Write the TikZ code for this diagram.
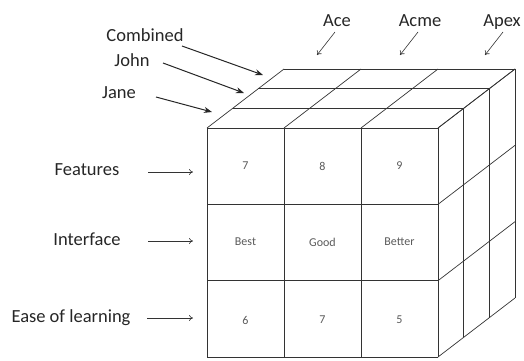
\documentclass[tikz,border=0pt]{standalone}
\usepackage{fontspec}
\setmainfont{Carlito}
\usetikzlibrary{arrows.meta}
\begin{document}
\begin{tikzpicture}[x=1pt,y=-1pt,
    edge/.style={line width=0.7pt, draw=black!80},
    lbl/.style={anchor=base, font=\fontsize{18.5}{20}\selectfont, text=black!85},
    val/.style={font=\fontsize{12}{14}\selectfont, text=black!65},
    thick ptr/.style={-{Stealth[length=8pt,width=6pt]}, line width=1pt, black!85},
    thin ptr/.style={-{To[length=4pt,width=6pt]}, line width=0.6pt, black!80}]
                \useasboundingbox (0,0) rectangle (524,360);
                % front face
                \foreach \i in {0,...,3} {
                    \draw[edge] (207+77*\i,128) -- (207+77*\i,357);
                    \draw[edge] (207,128+76.33*\i) -- (438,128+76.33*\i);
                }
                % top face
                \foreach \k in {1,2,3}
                    \draw[edge] (207+25.67*\k,128-19.67*\k) -- (438+25.67*\k,128-19.67*\k);
                \foreach \i in {0,...,3}
                    \draw[edge] (207+77*\i,128) -- ++(77,-59);
                % right face
                \foreach \k in {1,2,3}
                    \draw[edge] (438+25.67*\k,128-19.67*\k) -- ++(0,229);
                \foreach \j in {0,...,3}
                    \draw[edge] (438,128+76.33*\j) -- ++(77,-59);
                % cell values
                \node[val] (f1) at (245.5,166) {7};
                \node[val] (f2) at (322.5,166) {8};
                \node[val] (f3) at (399.5,166) {9};
                \node[val] (i1) at (245.5,242) {Best};
                \node[val] (i2) at (322.5,242) {Good};
                \node[val] (i3) at (399.5,242) {Better};
                \node[val] (e1) at (245.5,320) {6};
                \node[val] (e2) at (322.5,320) {7};
                \node[val] (e3) at (399.5,320) {5};
                % depth labels
                \node[lbl] (combined) at (145,41) {Combined};
                \node[lbl] (john) at (132,66) {John};
                \node[lbl] (jane) at (119,98) {Jane};
                \coordinate (combined-s) at (182,46);
                \coordinate (combined-e) at (263,75);
                \coordinate (john-s) at (163,63);
                \coordinate (john-e) at (244,93);
                \coordinate (jane-s) at (156,97);
                \coordinate (jane-e) at (212,112);
                \draw[thick ptr] (combined-s) -- (combined-e);
                \draw[thick ptr] (john-s) -- (john-e);
                \draw[thick ptr] (jane-s) -- (jane-e);
                % column labels
                \node[lbl] (ace) at (337,26.5) {Ace};
                \node[lbl] (acme) at (420,26.5) {Acme};
                \node[lbl] (apex) at (502,26.5) {Apex};
                \coordinate (ace-s) at (335,32);
                \coordinate (ace-e) at (317,55);
                \coordinate (acme-s) at (418,32);
                \coordinate (acme-e) at (400,55);
                \coordinate (apex-s) at (503,32);
                \coordinate (apex-e) at (485,55);
                \draw[thin ptr] (ace-s) -- (ace-e);
                \draw[thin ptr] (acme-s) -- (acme-e);
                \draw[thin ptr] (apex-s) -- (apex-e);
                % row labels
                \node[lbl] (features) at (87,175) {Features};
                \node[lbl] (interface) at (87,245) {Interface};
                \node[lbl] (ease) at (71,322) {Ease of learning};
                \coordinate (features-s) at (148,172);
                \coordinate (features-e) at (193,172);
                \coordinate (interface-s) at (148,241);
                \coordinate (interface-e) at (193,241);
                \coordinate (ease-s) at (147,318);
                \coordinate (ease-e) at (193,318);
                \draw[thin ptr] (features-s) -- (features-e);
                \draw[thin ptr] (interface-s) -- (interface-e);
                \draw[thin ptr] (ease-s) -- (ease-e);
            \end{tikzpicture}
\end{document}
